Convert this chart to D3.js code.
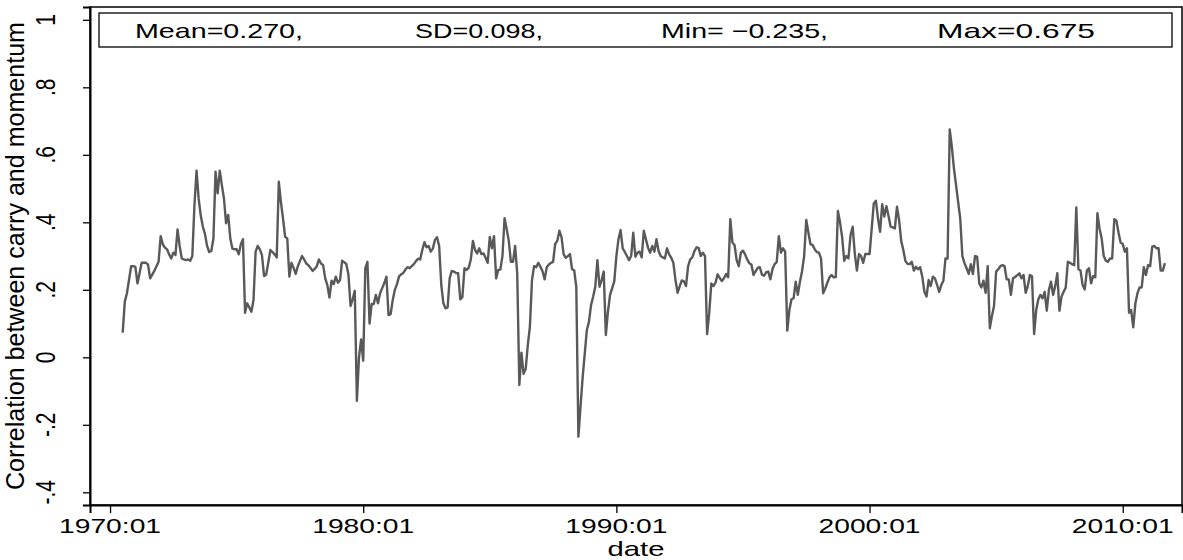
<!DOCTYPE html>
<html>
<head>
<meta charset="utf-8">
<script src="https://cdn.jsdelivr.net/npm/d3@7"></script>
<style>
  body { margin: 0; background: #fff; }
  svg { display: block; font-family: "Liberation Sans", Arial, Helvetica, sans-serif; }
</style>
</head>
<body>
<svg id="chart"></svg>
<script>
// Monthly correlation between carry and momentum, 1970:07 - 2011:09

const startYear = 1970;
const startMonth = 7;

// one row per year (1970 starts in July)
const corr = [
  0.073, 0.165, 0.19, 0.23, 0.27, 0.27,
  0.268, 0.219, 0.25, 0.28, 0.28, 0.28, 0.275, 0.234, 0.245, 0.256, 0.27, 0.283,
  0.359, 0.335, 0.325, 0.32, 0.305, 0.293, 0.31, 0.303, 0.379, 0.33, 0.293, 0.29,
  0.288, 0.29, 0.286, 0.3, 0.45, 0.553, 0.47, 0.42, 0.387, 0.365, 0.33, 0.312,
  0.315, 0.352, 0.55, 0.486, 0.553, 0.51, 0.47, 0.397, 0.422, 0.352, 0.322, 0.32,
  0.32, 0.305, 0.335, 0.35, 0.132, 0.16, 0.148, 0.135, 0.17, 0.313, 0.33, 0.32,
  0.303, 0.241, 0.245, 0.28, 0.318, 0.312, 0.305, 0.296, 0.52, 0.46, 0.41, 0.357,
  0.352, 0.239, 0.28, 0.265, 0.247, 0.27, 0.285, 0.3, 0.29, 0.278, 0.273, 0.265,
  0.256, 0.262, 0.27, 0.29, 0.278, 0.273, 0.234, 0.214, 0.177, 0.227, 0.217, 0.239,
  0.221, 0.229, 0.286, 0.282, 0.276, 0.245, 0.152, 0.172, 0.197, -0.129, 0.0, 0.053,
  -0.01, 0.264, 0.283, 0.1, 0.158, 0.158, 0.185, 0.16, 0.19, 0.205, 0.22, 0.239,
  0.125, 0.128, 0.17, 0.2, 0.217, 0.24, 0.246, 0.25, 0.26, 0.267, 0.264, 0.27,
  0.276, 0.285, 0.292, 0.29, 0.318, 0.341, 0.326, 0.33, 0.313, 0.322, 0.348, 0.356,
  0.33, 0.215, 0.16, 0.145, 0.148, 0.235, 0.256, 0.254, 0.25, 0.249, 0.172, 0.178,
  0.264, 0.259, 0.265, 0.29, 0.345, 0.318, 0.308, 0.323, 0.306, 0.308, 0.295, 0.28,
  0.357, 0.323, 0.359, 0.234, 0.259, 0.26, 0.3, 0.412, 0.38, 0.345, 0.283, 0.283,
  0.33, 0.249, -0.082, 0.014, -0.049, -0.035, 0.035, 0.09, 0.229, 0.27, 0.267, 0.28,
  0.268, 0.255, 0.231, 0.267, 0.275, 0.28, 0.283, 0.336, 0.345, 0.375, 0.356, 0.305,
  0.295, 0.3, 0.306, 0.261, 0.258, 0.209, -0.235, -0.146, -0.06, 0.01, 0.081, 0.105,
  0.155, 0.18, 0.209, 0.288, 0.209, 0.229, 0.254, 0.066, 0.135, 0.185, 0.205, 0.225,
  0.3, 0.35, 0.377, 0.323, 0.312, 0.3, 0.288, 0.3, 0.369, 0.298, 0.31, 0.313,
  0.296, 0.375, 0.35, 0.325, 0.31, 0.33, 0.313, 0.35, 0.315, 0.3, 0.296, 0.293,
  0.323, 0.305, 0.295, 0.28, 0.23, 0.191, 0.21, 0.228, 0.225, 0.211, 0.27, 0.29,
  0.296, 0.315, 0.326, 0.324, 0.3, 0.31, 0.3, 0.069, 0.13, 0.219, 0.211, 0.221,
  0.246, 0.235, 0.226, 0.234, 0.247, 0.237, 0.409, 0.34, 0.333, 0.288, 0.27, 0.31,
  0.316, 0.305, 0.29, 0.279, 0.275, 0.244, 0.255, 0.265, 0.267, 0.245, 0.242, 0.252,
  0.254, 0.231, 0.262, 0.276, 0.282, 0.359, 0.31, 0.323, 0.313, 0.079, 0.14, 0.172,
  0.175, 0.224, 0.185, 0.224, 0.255, 0.3, 0.407, 0.37, 0.335, 0.333, 0.32, 0.312,
  0.31, 0.293, 0.19, 0.204, 0.221, 0.237, 0.244, 0.237, 0.238, 0.434, 0.4, 0.357,
  0.286, 0.3, 0.293, 0.362, 0.387, 0.308, 0.257, 0.306, 0.3, 0.28, 0.306, 0.306,
  0.306, 0.38, 0.456, 0.464, 0.412, 0.372, 0.454, 0.417, 0.448, 0.419, 0.387, 0.385,
  0.382, 0.446, 0.407, 0.345, 0.318, 0.285, 0.277, 0.276, 0.283, 0.257, 0.268, 0.261,
  0.267, 0.239, 0.194, 0.18, 0.229, 0.211, 0.239, 0.234, 0.215, 0.194, 0.214, 0.227,
  0.293, 0.293, 0.675, 0.624, 0.56, 0.51, 0.46, 0.41, 0.3, 0.279, 0.264, 0.247,
  0.276, 0.247, 0.3, 0.298, 0.219, 0.207, 0.227, 0.191, 0.27, 0.086, 0.122, 0.152,
  0.254, 0.261, 0.27, 0.273, 0.27, 0.231, 0.231, 0.185, 0.234, 0.238, 0.243, 0.249,
  0.234, 0.244, 0.191, 0.211, 0.244, 0.24, 0.069, 0.14, 0.172, 0.185, 0.175, 0.194,
  0.138, 0.199, 0.224, 0.185, 0.211, 0.249, 0.138, 0.18, 0.194, 0.207, 0.283, 0.28,
  0.276, 0.273, 0.444, 0.261, 0.257, 0.214, 0.201, 0.257, 0.264, 0.219, 0.241, 0.237,
  0.427, 0.382, 0.353, 0.3, 0.286, 0.283, 0.293, 0.293, 0.409, 0.405, 0.37, 0.34,
  0.336, 0.313, 0.323, 0.132, 0.14, 0.089, 0.16, 0.19, 0.207, 0.207, 0.267, 0.244,
  0.273, 0.27, 0.328, 0.33, 0.323, 0.323, 0.257, 0.257, 0.279
];

const xTickYears = [1970, 1980, 1990, 2000, 2010];
const yTickValues = [-0.4, -0.2, 0, 0.2, 0.4, 0.6, 0.8, 1];
const yTickLabels = ["-.4", "-.2", "0", ".2", ".4", ".6", ".8", "1"];
const statLabels = ["Mean=0.270,", "SD=0.098,", "Min= \u22120.235,", "Max=0.675"];

const width = 1183;
const height = 560;

const svg = d3.select("#chart").attr("width", width).attr("height", height);

// plot region
const plotLeft = 90, plotRight = 1182, plotTop = 7, plotBottom = 505;

// Stata style monthly index: months since 1960m1
const tm = (yr, mo) => (yr - 1960) * 12 + (mo - 1);
const t0 = tm(startYear, startMonth);
const series = corr.map((v, i) => ({ t: t0 + i, v }));

const x = d3.scaleLinear().domain([110.5, 628.1]).range([plotLeft, plotRight]);
const y = d3.scaleLinear().domain([-0.4376, 1.038]).range([plotBottom, plotTop]);

// frame
svg.append("rect")
  .attr("x", plotLeft).attr("y", plotTop)
  .attr("width", plotRight - plotLeft).attr("height", plotBottom - plotTop)
  .attr("fill", "none").attr("stroke", "#000").attr("stroke-width", 1.5);

// y axis
const yAxis = d3.axisLeft(y)
  .tickValues(yTickValues)
  .tickSize(7)
  .tickFormat("");
const yG = svg.append("g").attr("transform", `translate(${plotLeft},0)`).call(yAxis);
yG.select(".domain").attr("stroke-width", 2);
yG.selectAll(".tick line").attr("stroke-width", 1.3);

svg.append("g").selectAll("text")
  .data(yTickValues)
  .join("text")
  .attr("transform", (d) => `translate(55,${y(d)}) scale(1.35,1) rotate(-90)`)
  .attr("text-anchor", "middle")
  .attr("font-size", 21)
  .text((d, i) => yTickLabels[i]);

// x axis
const xAxis = d3.axisBottom(x)
  .tickValues(xTickYears.map((yr) => tm(yr, 1)))
  .tickSize(8)
  .tickFormat("");
const xG = svg.append("g").attr("transform", `translate(0,${plotBottom})`).call(xAxis);
xG.select(".domain").attr("stroke-width", 2);
xG.selectAll(".tick line").attr("stroke-width", 1.3);

svg.append("g").selectAll("text")
  .data(xTickYears)
  .join("text")
  .attr("x", (d) => x(tm(d, 1)))
  .attr("y", 533)
  .attr("text-anchor", "middle")
  .attr("font-size", 21)
  .attr("textLength", 102)
  .attr("lengthAdjust", "spacingAndGlyphs")
  .text((d) => `${d}:01`);

// axis titles
svg.append("text")
  .attr("x", (plotLeft + plotRight) / 2)
  .attr("y", 556)
  .attr("text-anchor", "middle")
  .attr("font-size", 21)
  .attr("textLength", 57)
  .attr("lengthAdjust", "spacingAndGlyphs")
  .text("date");

svg.append("text")
  .attr("transform", `translate(24,${(plotTop + plotBottom) / 2}) scale(1.2,1) rotate(-90)`)
  .attr("text-anchor", "middle")
  .attr("font-size", 22)
  .attr("textLength", 468)
  .attr("lengthAdjust", "spacingAndGlyphs")
  .text("Correlation between carry and momentum");

// line
const line = d3.line()
  .x((d) => x(d.t))
  .y((d) => y(d.v));

svg.append("path")
  .datum(series)
  .attr("fill", "none")
  .attr("stroke", "#595959")
  .attr("stroke-width", 2.4)
  .attr("stroke-linejoin", "round")
  .attr("d", line);

// summary box
svg.append("rect")
  .attr("x", 99).attr("y", 13)
  .attr("width", 1172 - 99).attr("height", 34)
  .attr("fill", "#fff").attr("stroke", "#000").attr("stroke-width", 1.3);

const statPos = [[135, 303], [415, 543], [661, 828], [937, 1095]];
svg.append("g").selectAll("text")
  .data(statLabels)
  .join("text")
  .attr("x", (d, i) => statPos[i][0])
  .attr("y", 38)
  .attr("font-size", 21)
  .attr("textLength", (d, i) => statPos[i][1] - statPos[i][0])
  .attr("lengthAdjust", "spacingAndGlyphs")
  .text((d) => d);
</script>
</body>
</html>
